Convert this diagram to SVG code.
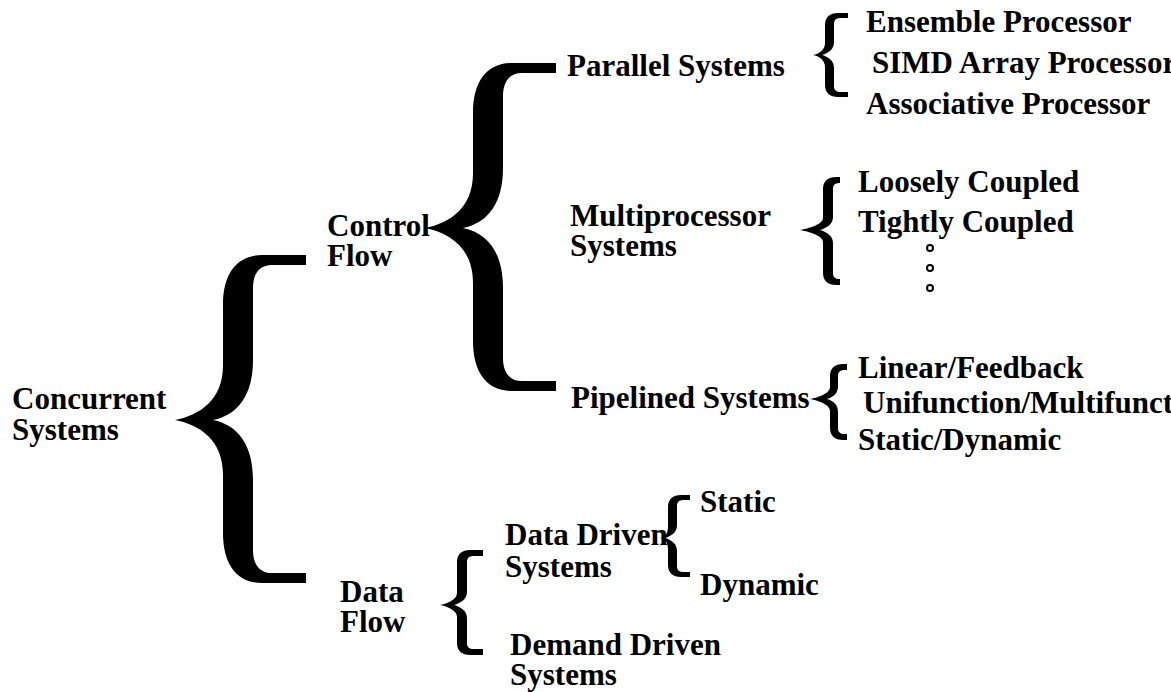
<svg xmlns="http://www.w3.org/2000/svg" width="1171" height="692" viewBox="0 0 1171 692">
  <style>
    text { font-family: "Liberation Serif", "Times New Roman", serif; font-weight: bold; font-size: 31px; fill: #000; }
    .brace { fill: #000; stroke: none; }
    .dot { fill: #fff; stroke: #000; stroke-width: 2; }
  </style>
  <defs>
    <!-- large curly brace, drawn at its Concurrent Systems position -->
    <path id="bigBrace" class="brace" d="M 306,255 L 262,255 C 238,255 223,272 223,305 L 223,365 C 223,400 200,415 175,420 C 200,425 223,440 223,475 L 223,533 C 223,566 238,583 262,583 L 306,583 L 306,573 L 272,573 C 260,573 253,565 253,550 L 253,480 C 253,445 238,425 213,420 C 238,415 253,395 253,360 L 253,288 C 253,273 260,265 272,265 L 306,265 Z"/>
  </defs>
  <rect width="1171" height="692" fill="#fff"/>

  <!-- braces linking each class to its subclasses -->
  <g id="connectors">
    <use href="#bigBrace"/>
    <use href="#bigBrace" transform="translate(250,-192)"/>
    <path class="brace" d="M 848,13 L 838,13 C 830,13 825,17 825,25 L 825,43 C 825,50 819,54 813,55 C 819,56 825,60 825,67 L 825,85 C 825,93 830,97 838,97 L 848,97 L 848,92 L 841,92 C 836,92 834,90 834,86 L 834,68 C 834,61 829,57 822,55 C 829,53 834,49 834,42 L 834,24 C 834,20 836,18 841,18 L 848,18 Z"/>
    <path class="brace" d="M 840,177 L 836,177 C 828,177 823,181 823,189 L 823,218 C 823,225 806,229 800,230 C 806,231 823,235 823,242 L 823,273 C 823,281 828,285 836,285 L 840,285 L 840,279 C 835,279 833,277 833,273 L 833,243 C 833,236 827,232 820,230 C 827,228 833,224 833,217 L 833,189 C 833,185 835,183 840,183 Z"/>
    <path class="brace" d="M 847,364 L 843,364 C 835,364 830,368 830,376 L 830,387 C 830,394 816,398 810,399 C 816,400 830,404 830,411 L 830,428 C 830,436 835,440 843,440 L 847,440 L 847,434 L 845,434 C 840,434 838,432 838,428 L 838,412 C 838,405 834,401 827,399 C 834,397 838,393 838,386 L 838,376 C 838,372 840,370 845,370 L 847,370 Z"/>
    <path class="brace" d="M 483,550 L 470,550 C 462,550 457,554 457,562 L 457,593 C 457,600 446,604 440,605 C 446,606 457,610 457,617 L 457,643 C 457,651 462,655 470,655 L 483,655 L 483,649 L 474,649 C 469,649 467,647 467,643 L 467,618 C 467,611 461,607 454,605 C 461,603 467,599 467,592 L 467,562 C 467,558 469,556 474,556 L 483,556 Z"/>
    <path class="brace" d="M 690,495 L 681,495 C 673,495 668,499 668,507 L 668,526 C 668,533 666,537 660,538 C 666,539 668,543 668,550 L 668,565 C 668,573 673,577 681,577 L 690,577 L 690,572 L 684,572 C 679,572 677,570 677,566 L 677,551 C 677,544 672,540 665,538 C 672,536 677,532 677,525 L 677,506 C 677,502 679,500 684,500 L 690,500 Z"/>
  </g>

  <g id="concurrent-systems"><text x="12" y="409">Concurrent</text><text x="12" y="440">Systems</text></g>
  <g id="control-flow"><text x="327" y="236">Control</text><text x="327" y="266">Flow</text></g>
  <g id="data-flow"><text x="340" y="602">Data</text><text x="340" y="632">Flow</text></g>

  <g id="parallel-systems"><text x="567" y="76">Parallel Systems</text></g>
  <g id="multiprocessor-systems"><text x="570" y="226">Multiprocessor</text><text x="570" y="256">Systems</text></g>
  <g id="pipelined-systems"><text x="571" y="408">Pipelined Systems</text></g>

  <g id="data-driven-systems"><text x="505" y="545">Data Driven</text><text x="505" y="577">Systems</text></g>
  <g id="demand-driven-systems"><text x="510" y="655">Demand Driven</text><text x="510" y="685">Systems</text></g>

  <g id="ensemble-processor"><text x="866" y="32">Ensemble Processor</text></g>
  <g id="simd-array-processor"><text x="872" y="73">SIMD Array Processor</text></g>
  <g id="associative-processor"><text x="866" y="114">Associative Processor</text></g>

  <g id="loosely-coupled"><text x="858" y="192">Loosely Coupled</text></g>
  <g id="tightly-coupled"><text x="858" y="232">Tightly Coupled</text></g>
  <g id="more-multiprocessors">
    <circle class="dot" cx="930" cy="248" r="3"/>
    <circle class="dot" cx="930" cy="268" r="3"/>
    <circle class="dot" cx="930" cy="288" r="3"/>
  </g>

  <g id="linear-feedback"><text x="858" y="378">Linear/Feedback</text></g>
  <g id="unifunction-multifunction"><text x="863" y="413">Unifunction/Multifunction</text></g>
  <g id="static-dynamic"><text x="858" y="450">Static/Dynamic</text></g>

  <g id="static-dataflow"><text x="700" y="512">Static</text></g>
  <g id="dynamic-dataflow"><text x="700" y="595">Dynamic</text></g>
</svg>
